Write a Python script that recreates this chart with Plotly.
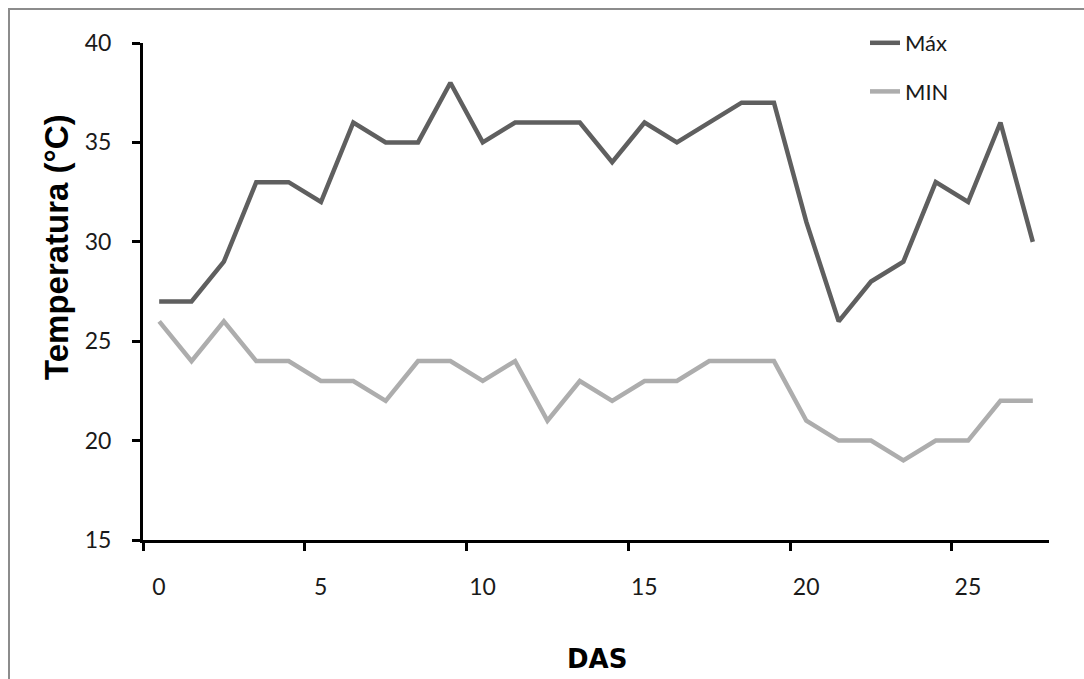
import plotly.graph_objects as go

days = list(range(28))
t_max = [27, 27, 29, 33, 33, 32, 36, 35, 35, 38, 35, 36, 36, 36, 34, 36, 35, 36, 37, 37,
         31, 26, 28, 29, 33, 32, 36, 30]
t_min = [26, 24, 26, 24, 24, 23, 23, 22, 24, 24, 23, 24, 21, 23, 22, 23, 23, 24, 24, 24,
         21, 20, 20, 19, 20, 20, 22, 22]
x_tick_labels = ["0", "5", "10", "15", "20", "25"]
x_tick_positions = [-0.5, 4.5, 9.5, 14.5, 19.5, 24.5]
y_ticks = [15, 20, 25, 30, 35, 40]
x_title = "DAS"
y_title = "Temperatura (°C)"

tick_font = dict(family="Lato, Noto Sans, sans-serif", size=23, color="#1a1a1a")
title_font_family = "Liberation Sans, Arial, sans-serif"

fig = go.Figure()
fig.add_trace(go.Scatter(x=days, y=t_max, mode="lines", name="Máx",
                         line=dict(color="#5f5f5f", width=4.5), legendgroup="a"))
fig.add_trace(go.Scatter(x=days, y=t_min, mode="lines", name="MIN",
                         line=dict(color="#adadad", width=4.5), legendgroup="b"))

L, R, T, B = 143, 35, 43, 139
W, H = 1084, 679
pw, ph = W - L - R, H - T - B

fig.update_layout(
    width=W, height=H,
    margin=dict(l=L, r=R, t=T, b=B, autoexpand=False),
    paper_bgcolor="white", plot_bgcolor="white",
    showlegend=True,
    legend=dict(x=(865 - L) / pw, y=(540 - 22) / ph, xanchor="left", yanchor="top",
                font=dict(family="Lato, Noto Sans, sans-serif", size=22, color="#1a1a1a"),
                bgcolor="rgba(0,0,0,0)", tracegroupgap=17, itemwidth=30),
    xaxis=dict(range=[-0.5, 27.5], tickvals=x_tick_positions, ticktext=x_tick_labels,
               ticklabelshift=16, ticklabelstandoff=16, ticks="outside", ticklen=8,
               tickwidth=3, tickcolor="black", automargin=False,
               showline=True, linecolor="black", linewidth=3, showgrid=False, zeroline=False,
               tickfont=tick_font),
    yaxis=dict(range=[15, 40], tickvals=y_ticks, ticks="outside", ticklen=8, tickwidth=3,
               tickcolor="black", showline=True, linecolor="black", linewidth=3,
               showgrid=False, zeroline=False, tickfont=tick_font, ticklabelstandoff=16,
               automargin=False),
)

fig.add_annotation(text="<b>" + x_title + "</b>", xref="paper", yref="paper",
                   x=(597 - L) / pw, y=(540 - 659) / ph, xanchor="center", yanchor="middle",
                   showarrow=False,
                   font=dict(family="DejaVu Sans, sans-serif", size=26, color="black"))
fig.add_annotation(text="<b>" + y_title + "</b>", xref="paper", yref="paper",
                   x=(56 - L) / pw, y=(540 - 247) / ph, xanchor="center", yanchor="middle",
                   textangle=-90, showarrow=False,
                   font=dict(family=title_font_family, size=33, color="black"))

fig.add_shape(type="path", xref="paper", yref="paper",
              path="M {x0},{y0} L {x0},{y1} L {x2},{y1}".format(
                  x0=(9 - L) / pw, y0=(540 - 700) / ph, y1=(540 - 9) / ph, x2=(1100 - L) / pw),
              line=dict(color="#8c8c8c", width=2), layer="below")

fig.write_html("out.html", config={"displayModeBar": False},
               post_script="document.body.style.margin='0px';")
